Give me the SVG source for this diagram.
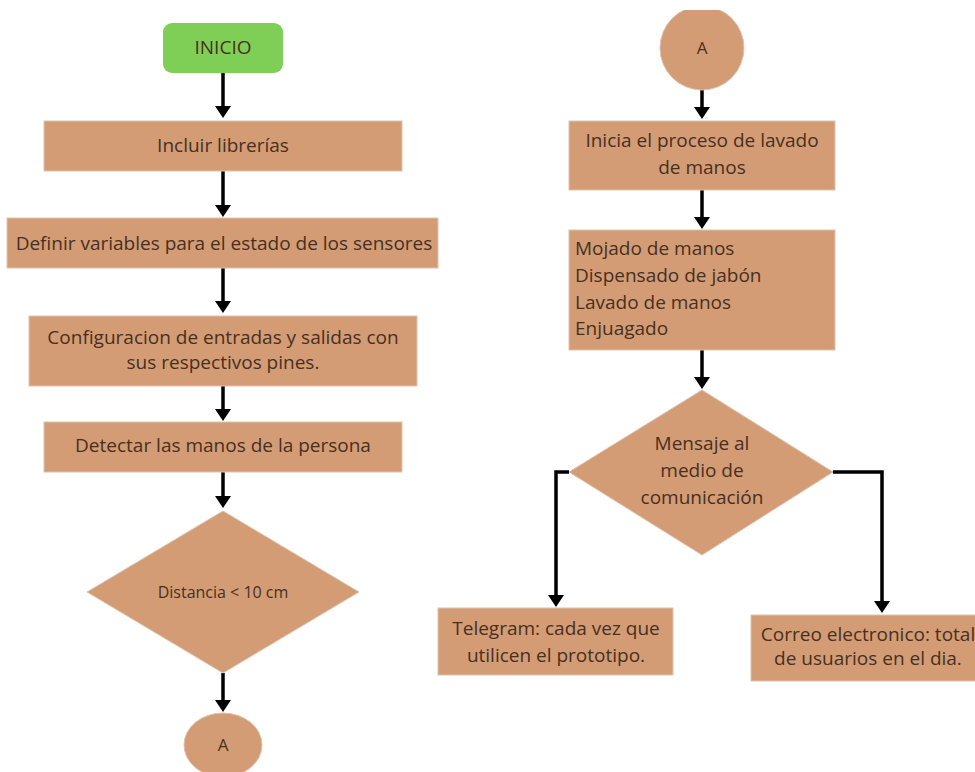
<svg xmlns="http://www.w3.org/2000/svg" width="975" height="772" viewBox="0 0 975 772">
<style>
.box{fill:#d49c75;stroke:#dcc3b0;stroke-width:1}
.term{fill:#7fcf57}
.t{font-family:"Open Sans","Liberation Sans",sans-serif;font-size:19px;fill:#47301f;text-anchor:middle;dominant-baseline:central}
.tl{text-anchor:start}
.ts{font-size:16px}
.ta{font-size:17px}
.c{fill:none;stroke:#000;stroke-width:3.5;marker-end:url(#ah)}
</style>
<defs>
<marker id="ah" markerUnits="userSpaceOnUse" viewBox="0 0 12 16" refX="6" refY="8" markerWidth="12" markerHeight="16" orient="auto">
<path d="M0,0 L12,8 L0,16 z" fill="#000"/>
</marker>
<clipPath id="clipTop"><rect x="0" y="10" width="975" height="762"/></clipPath>
</defs>
<rect width="975" height="772" fill="#fff"/>

<g id="connectors">
<path class="c" d="M223,73 V112"/>
<path class="c" d="M223,171 V211"/>
<path class="c" d="M223,268 V307"/>
<path class="c" d="M223,386 V415"/>
<path class="c" d="M223,472 V502"/>
<path class="c" d="M223,673 V706"/>
<path class="c" d="M702,88 V113"/>
<path class="c" d="M702,190 V223"/>
<path class="c" d="M702,350 V383"/>
<path class="c" d="M569,472 H556 V601"/>
<path class="c" d="M833,472 H882 V607"/>
</g>

<g id="inicio">
<rect class="term" x="163" y="23" width="120" height="50" rx="9"/>
<text class="t" x="223" y="47">INICIO</text>
</g>
<g id="incluir">
<rect class="box" x="44" y="121" width="358" height="50"/>
<text class="t" x="223" y="145">Incluir librerías</text>
</g>
<g id="definir">
<rect class="box" x="7" y="218" width="431" height="50"/>
<text class="t" x="224" y="243">Definir variables para el estado de los sensores</text>
</g>
<g id="config">
<rect class="box" x="29" y="316" width="388" height="70"/>
<text class="t" x="223" y="337">Configuracion de entradas y salidas con</text>
<text class="t" x="223" y="362">sus respectivos pines.</text>
</g>
<g id="detectar">
<rect class="box" x="44" y="422" width="358" height="50"/>
<text class="t" x="223" y="445">Detectar las manos de la persona</text>
</g>
<g id="distancia">
<polygon class="box" points="223,511 359,592 223,673 87,592"/>
<text class="t ts" x="223" y="592">Distancia &lt; 10 cm</text>
</g>
<g id="conectorA1">
<ellipse class="box" cx="223" cy="745" rx="39" ry="32"/>
<text class="t ta" x="223" y="744">A</text>
</g>

<g id="conectorA2">
<circle class="box" cx="702" cy="48" r="42" clip-path="url(#clipTop)"/>
<text class="t ta" x="702" y="47">A</text>
</g>
<g id="inicia">
<rect class="box" x="569" y="121" width="266" height="69"/>
<text class="t" x="702" y="140">Inicia el proceso de lavado</text>
<text class="t" x="702" y="167">de manos</text>
</g>
<g id="pasos">
<rect class="box" x="569" y="230" width="266" height="120"/>
<text class="t tl" x="575" y="248">Mojado de manos</text>
<text class="t tl" x="575" y="275">Dispensado de jabón</text>
<text class="t tl" x="575" y="302">Lavado de manos</text>
<text class="t tl" x="575" y="328">Enjuagado</text>
</g>
<g id="mensaje">
<polygon class="box" points="702,390 833,472 702,555 569,472"/>
<text class="t" x="702" y="443">Mensaje al</text>
<text class="t" x="702" y="470">medio de</text>
<text class="t" x="702" y="497">comunicación</text>
</g>
<g id="telegram">
<rect class="box" x="438" y="608" width="235" height="67"/>
<text class="t" x="556" y="628">Telegram: cada vez que</text>
<text class="t" x="556" y="655">utilicen el prototipo.</text>
</g>
<g id="correo">
<rect class="box" x="751" y="615" width="230" height="66"/>
<text class="t" x="868" y="634">Correo electronico: total</text>
<text class="t" x="868" y="658">de usuarios en el dia.</text>
</g>
</svg>
